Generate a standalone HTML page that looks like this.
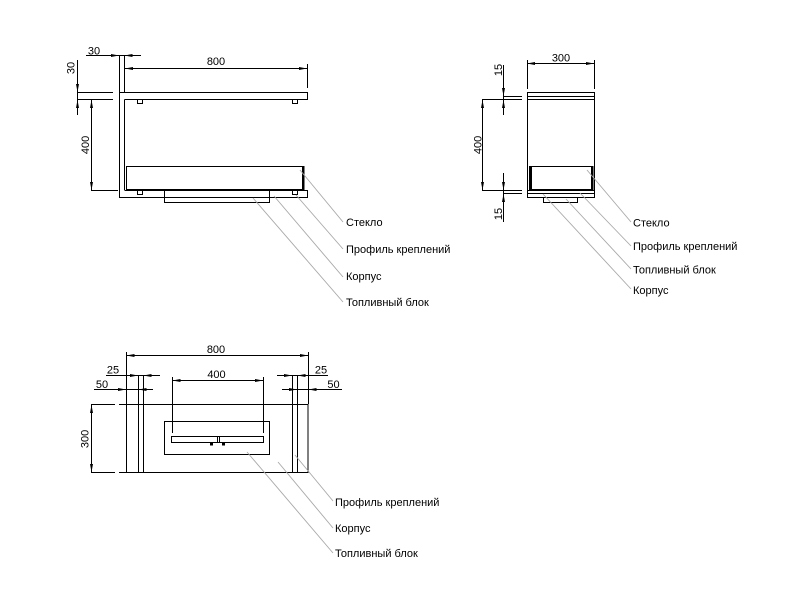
<!DOCTYPE html>
<html>
<head>
<meta charset="utf-8">
<style>
html,body{margin:0;padding:0;background:#fff;}
svg{display:block;}
text{font-family:"Liberation Sans",Arial,sans-serif;font-size:11px;fill:#000;}
</style>
</head>
<body>
<svg width="808" height="606" viewBox="0 0 808 606" xmlns="http://www.w3.org/2000/svg">
<rect width="808" height="606" fill="#fff"/>

<!-- ============ FRONT VIEW (top-left) ============ -->
<g fill="none" stroke="#000" stroke-width="1">
  <!-- wall -->
  <path d="M119.5 55 V197.5"/>
  <path d="M124.5 55 V92"/>
  <path d="M124.5 99.5 V190"/>
  <!-- top shelf -->
  <path d="M119.5 92.5 H307.5 V99.5 H124.5"/>
  <path d="M77 92.5 H113 M77 99.5 H113"/>
  <!-- bottom shelf -->
  <path d="M119 197.5 H307.5 V190.5 H124.5"/>
  <!-- glass -->
  <rect x="126.5" y="166.5" width="176" height="23"/>
  <!-- brackets -->
  <rect x="137.5" y="99.5" width="5" height="4"/>
  <rect x="292.5" y="99.5" width="5" height="4"/>
  <rect x="137.5" y="190.5" width="5" height="4"/>
  <rect x="292.5" y="190.5" width="5" height="4"/>
  <!-- fuel block -->
  <path d="M164.5 190 V202.5 H269.5 V190"/>
  <!-- dims -->
  <path d="M86 55.5 H141"/>
  <path d="M77.5 60 V115"/>
  <path d="M125 68.5 H307"/>
  <path d="M307.5 64 V88"/>
  <path d="M91.5 99 V190"/>
  <path d="M91 190.5 H118"/>
</g>
<rect x="302" y="166" width="2.5" height="24.5" fill="#000"/>
<rect x="126" y="189" width="178" height="2" fill="#000"/>
<g fill="#000">
  <!-- 30 horizontal -->
  <polygon points="119,55.5 111,54 111,57"/>
  <polygon points="124.5,55.5 132.5,54 132.5,57"/>
  <!-- 30 vertical -->
  <polygon points="77.5,92 76,84 79,84"/>
  <polygon points="77.5,100 76,108 79,108"/>
  <!-- 800 -->
  <polygon points="125,68.5 133,67 133,70"/>
  <polygon points="307,68.5 299,67 299,70"/>
  <!-- 400 -->
  <polygon points="91.5,100 90,108 93,108"/>
  <polygon points="91.5,190 90,182 93,182"/>
</g>
<text x="94" y="54.5" text-anchor="middle">30</text>
<text transform="translate(71.5,68) rotate(-90)" text-anchor="middle" dominant-baseline="central">30</text>
<text x="216" y="65" text-anchor="middle">800</text>
<text transform="translate(86,145) rotate(-90)" text-anchor="middle" dominant-baseline="central">400</text>

<g stroke="#a8a8a8" stroke-width="0.9" fill="none">
  <path d="M300 170 L343 222"/>
  <path d="M296 195 L343 249"/>
  <path d="M274 196 L343 277"/>
  <path d="M253 198 L343 302"/>
</g>
<text x="346" y="226">Стекло</text>
<text x="346" y="253">Профиль креплений</text>
<text x="346" y="280">Корпус</text>
<text x="346" y="306">Топливный блок</text>

<!-- ============ SIDE VIEW (top-right) ============ -->
<g fill="none" stroke="#000" stroke-width="1">
  <rect x="527.5" y="92.5" width="67" height="105"/>
  <path d="M527 96.5 H594 M527 99.5 H594"/>
  <path d="M527 190.5 H594 M527 193.5 H594"/>
  <rect x="529.5" y="166.5" width="63" height="23.5"/>
  <path d="M543.5 197 V202.5 H577.5 V197"/>
  <!-- dims -->
  <path d="M527 63.5 H594"/>
  <path d="M527.5 60 V89 M594.5 60 V89"/>
  <path d="M482.5 99 V190"/>
  <path d="M482 99.5 H522 M482 190.5 H522"/>
  <path d="M503.5 65 V115"/>
  <path d="M503 96.5 H522"/>
  <path d="M503.5 173 V222"/>
  <path d="M503 193.5 H522"/>
</g>
<rect x="529" y="166" width="3" height="24.5" fill="#000"/>
<rect x="591" y="166" width="2.5" height="24.5" fill="#000"/>
<rect x="529" y="189" width="64.5" height="2" fill="#000"/>
<g fill="#000">
  <polygon points="527,63.5 535,62 535,65"/>
  <polygon points="594,63.5 586,62 586,65"/>
  <polygon points="482.5,100 481,108 484,108"/>
  <polygon points="482.5,190 481,182 484,182"/>
  <polygon points="503.5,96 502,88 505,88"/>
  <polygon points="503.5,100 502,108 505,108"/>
  <polygon points="503.5,190 502,182 505,182"/>
  <polygon points="503.5,194 502,202 505,202"/>
</g>
<text x="561" y="61.5" text-anchor="middle">300</text>
<text transform="translate(478.5,145) rotate(-90)" text-anchor="middle" dominant-baseline="central">400</text>
<text transform="translate(499,70) rotate(-90)" text-anchor="middle" dominant-baseline="central">15</text>
<text transform="translate(499,214) rotate(-90)" text-anchor="middle" dominant-baseline="central">15</text>

<g stroke="#a8a8a8" stroke-width="0.9" fill="none">
  <path d="M587 170 L631 222"/>
  <path d="M580 193 L631 246"/>
  <path d="M566 199 L631 269"/>
  <path d="M543 194 L631 289"/>
</g>
<text x="633" y="226.5">Стекло</text>
<text x="633" y="250">Профиль креплений</text>
<text x="633" y="273.5">Топливный блок</text>
<text x="633" y="294">Корпус</text>

<!-- ============ TOP VIEW (bottom-left) ============ -->
<g fill="none" stroke="#000" stroke-width="1">
  <rect x="126.5" y="404.5" width="181.5" height="68"/>
  <path d="M91 404.5 H115 M119 404.5 H126"/>
  <path d="M91 472.5 H115 M119 472.5 H126"/>
  <path d="M138.5 375 V472 M143.5 375 V472"/>
  <path d="M292.5 375 V472 M297.5 375 V472"/>
  <path d="M126.5 352 V404 M308.5 352 V404"/>
  <path d="M126 355.5 H308"/>
  <path d="M106 375.5 H160"/>
  <path d="M94 389.5 H153"/>
  <path d="M277 375.5 H328"/>
  <path d="M282 389.5 H342"/>
  <path d="M172 380.5 H263"/>
  <path d="M172.5 377 V433 M263.5 377 V433"/>
  <rect x="164.5" y="421.5" width="105" height="33"/>
  <rect x="171.5" y="436.5" width="92" height="6"/>
  <path d="M217.5 436 V442 M219.5 436 V442"/>
  <path d="M91.5 404 V472"/>
</g>
<g fill="#000">
  <rect x="210" y="442" width="3" height="3.5"/>
  <rect x="222" y="442" width="3" height="3.5"/>
  <!-- 800 -->
  <polygon points="126.5,355.5 134.5,354 134.5,357"/>
  <polygon points="308,355.5 300,354 300,357"/>
  <!-- 25 left -->
  <polygon points="138,375.5 130,374 130,377"/>
  <polygon points="143.5,375.5 151.5,374 151.5,377"/>
  <!-- 50 left -->
  <polygon points="126,389.5 118,388 118,391"/>
  <polygon points="138.5,389.5 146.5,388 146.5,391"/>
  <!-- 25 right -->
  <polygon points="292,375.5 284,374 284,377"/>
  <polygon points="297.5,375.5 305.5,374 305.5,377"/>
  <!-- 50 right -->
  <polygon points="297,389.5 289,388 289,391"/>
  <polygon points="308.5,389.5 316.5,388 316.5,391"/>
  <!-- 400 -->
  <polygon points="172.5,380.5 180.5,379 180.5,382"/>
  <polygon points="263,380.5 255,379 255,382"/>
  <!-- 300 -->
  <polygon points="91.5,405 90,413 93,413"/>
  <polygon points="91.5,472 90,464 93,464"/>
</g>
<text x="216" y="353" text-anchor="middle">800</text>
<text x="113" y="373.5" text-anchor="middle">25</text>
<text x="102" y="388" text-anchor="middle">50</text>
<text x="321" y="373.5" text-anchor="middle">25</text>
<text x="333.5" y="388" text-anchor="middle">50</text>
<text x="216.5" y="378" text-anchor="middle">400</text>
<text transform="translate(85.5,439) rotate(-90)" text-anchor="middle" dominant-baseline="central">300</text>

<g stroke="#a8a8a8" stroke-width="0.9" fill="none">
  <path d="M295 455 L333 501"/>
  <path d="M278 462 L333 528"/>
  <path d="M247 452 L333 553"/>
</g>
<text x="335" y="506">Профиль креплений</text>
<text x="335" y="532">Корпус</text>
<text x="335" y="557">Топливный блок</text>
</svg>
</body>
</html>
